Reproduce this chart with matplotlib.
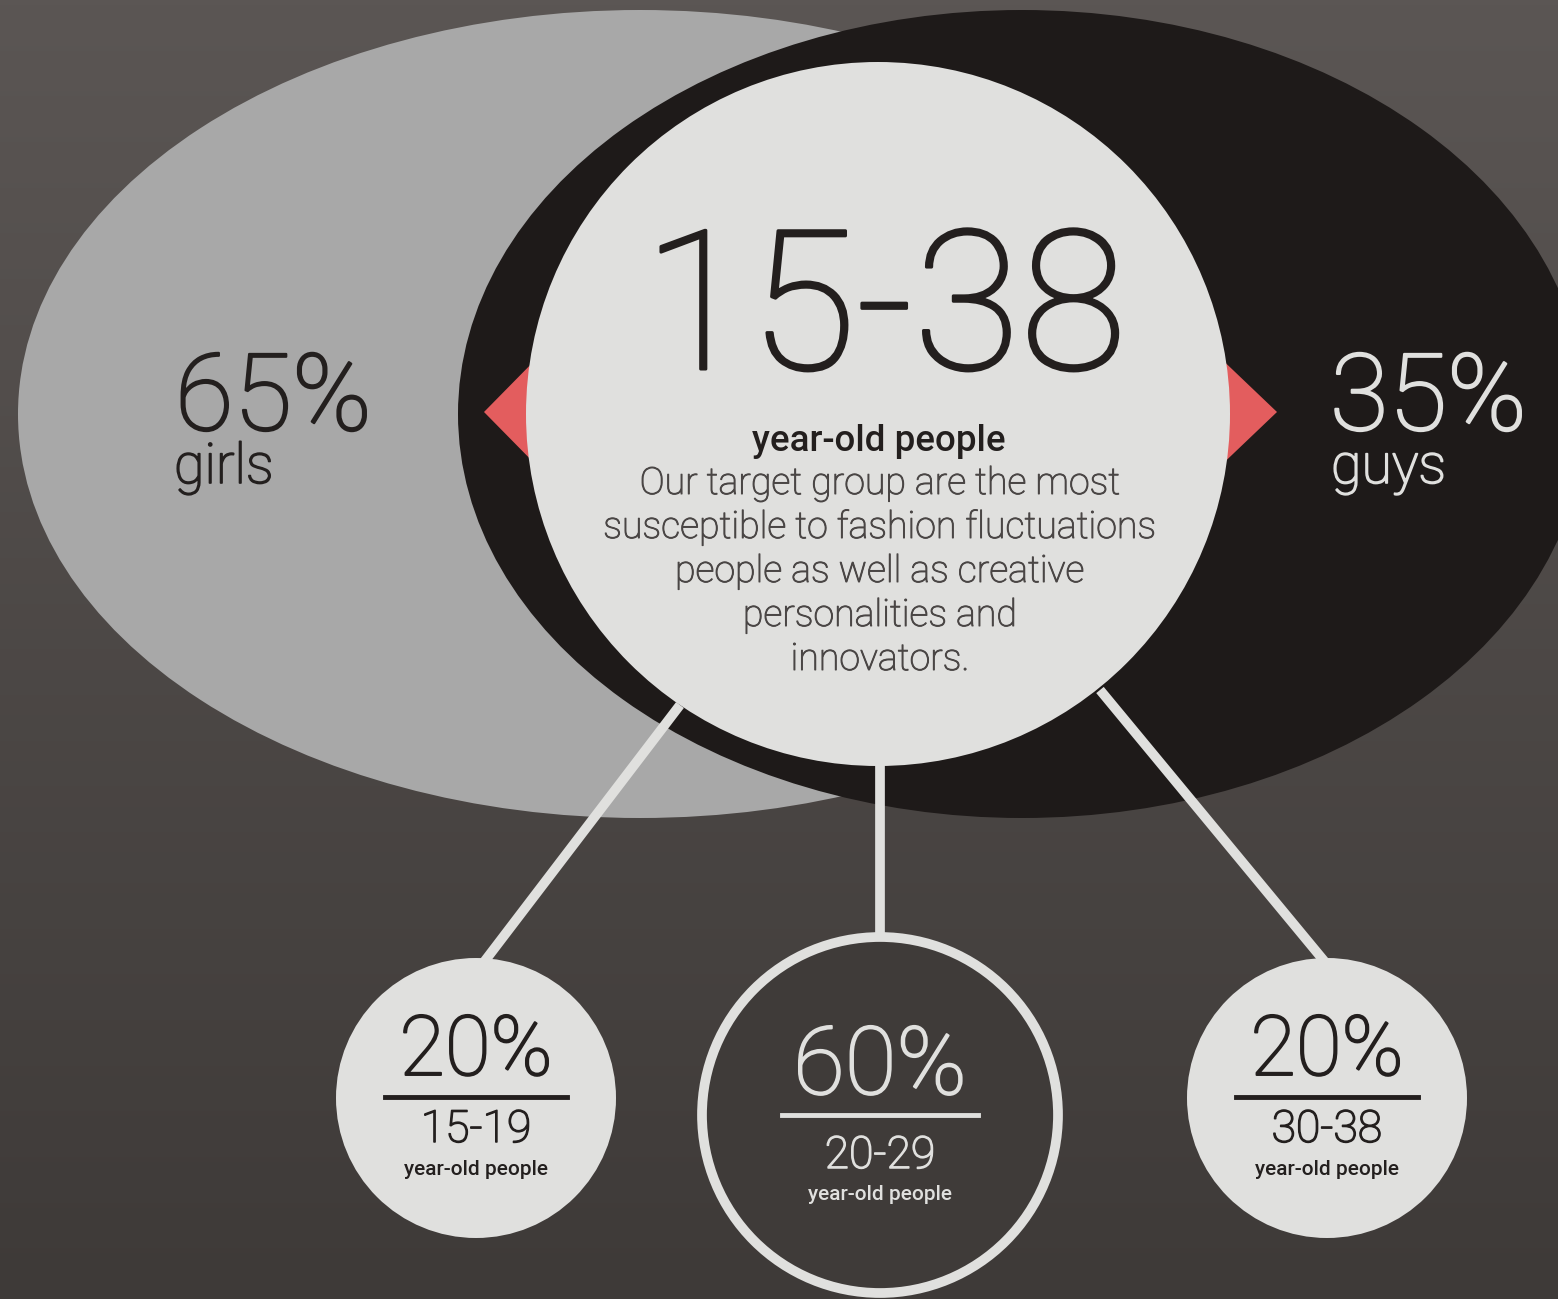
import numpy as np
import matplotlib
matplotlib.use("Agg")
import matplotlib.pyplot as plt
from matplotlib.patches import Ellipse, Circle, Polygon
from matplotlib.colors import LinearSegmentedColormap
import matplotlib.patheffects as pe

# ---- data ----
gender_labels = ["girls", "guys"]
gender_share = [65, 35]
age_range = "15-38"
age_groups = ["15-19", "20-29", "30-38"]
age_share = [20, 60, 20]
subtitle = "year-old people"
body_lines = ["Our target group are the most",
              "susceptible to fashion fluctuations",
              "people as well as creative",
              "personalities and",
              "innovators."]

W, H = 1558, 1299
fig = plt.figure(figsize=(W / 100, H / 100), dpi=100)
ax = fig.add_axes([0, 0, 1, 1])
ax.set_xlim(0, W)
ax.set_ylim(H, 0)
ax.set_aspect("equal")
ax.axis("off")

# background gradient
grad = np.linspace(0, 1, 256)[:, None]
bg = LinearSegmentedColormap.from_list("bg", ["#5b5654", "#3e3a38"])
ax.imshow(grad, cmap=bg, extent=[0, W, H, 0], aspect="auto", zorder=0)

FONT = "Roboto"
dark = "#231f1e"
light = "#e0e0de"


def thick(color, w=1.6):
    return [pe.withStroke(linewidth=w, foreground=color)]


# ellipses
ax.add_patch(Ellipse((640, 414), 1244, 808, facecolor="#a8a8a8", edgecolor="none", zorder=1))
ax.add_patch(Ellipse((1022, 414), 1128, 808, facecolor="#1e1a19", edgecolor="none", zorder=2))

# red triangles
ax.add_patch(Polygon([(484, 412), (545, 350), (545, 474)], closed=True, facecolor="#e35d5e", edgecolor="none", zorder=3))
ax.add_patch(Polygon([(1277, 412), (1212, 350), (1212, 474)], closed=True, facecolor="#e35d5e", edgecolor="none", zorder=3))

# connecting lines
lw = 7
ax.plot([680, 484], [705, 962], color=light, lw=lw, solid_capstyle="butt", zorder=3)
ax.plot([880, 880], [760, 937], color=light, lw=lw, solid_capstyle="butt", zorder=3)
ax.plot([1100, 1325], [690, 962], color=light, lw=lw, solid_capstyle="butt", zorder=3)

# central circle
ax.add_patch(Circle((878, 414), 352, facecolor=light, edgecolor="none", zorder=4))

# central text
ax.text(885, 369, age_range, ha="center", va="baseline", fontsize=140, family=FONT,
        fontweight="light", color=dark, zorder=5, path_effects=thick(dark, 2.2))
ax.text(879, 451, subtitle, ha="center", va="baseline", fontsize=26.5, family=FONT,
        fontweight="medium", color=dark, zorder=5)
for i, line in enumerate(body_lines):
    ax.text(880, 494 + i * 44, line, ha="center", va="baseline", fontsize=27, family=FONT,
            fontweight="light", color="#4a4645", zorder=5, path_effects=thick("#4a4645", 0.7))

# gender labels
ax.text(175, 430, f"{gender_share[0]}%", ha="left", va="baseline", fontsize=77, family=FONT,
        fontweight="light", color=dark, zorder=5, path_effects=thick(dark, 1.6))
ax.text(174, 483, gender_labels[0], ha="left", va="baseline", fontsize=40, family=FONT,
        fontweight="light", color=dark, zorder=5, path_effects=thick(dark, 1.2))
ax.text(1330, 430, f"{gender_share[1]}%", ha="left", va="baseline", fontsize=77, family=FONT,
        fontweight="light", color=light, zorder=5, path_effects=thick(light, 1.6))
ax.text(1331, 483, gender_labels[1], ha="left", va="baseline", fontsize=40, family=FONT,
        fontweight="light", color=light, zorder=5, path_effects=thick(light, 1.2))

# small circles
centers = [(476, 1098, 140), (880, 1115, 178), (1327, 1098, 140)]
for (cx, cy, r), grp, sh, k in zip(centers, age_groups, age_share, range(3)):
    if k == 1:
        ax.add_patch(Circle((cx, cy), r, facecolor="#3f3b39", edgecolor=light, lw=7, zorder=4))
        col = light
        fs_big = 68
        y_big, y_line, y_grp, y_sub = cy - 21, cy, cy + 53, cy + 85
        half = 98
    else:
        ax.add_patch(Circle((cx, cy), r, facecolor=light, edgecolor="none", zorder=4))
        col = dark
        fs_big = 60
        y_big, y_line, y_grp, y_sub = cy - 23, cy - 1, cy + 44, cy + 77
        half = 91
    ax.text(cx, y_big, f"{sh}%", ha="center", va="baseline", fontsize=fs_big, family=FONT,
            fontweight="light", color=col, zorder=5, path_effects=thick(col, 1.4))
    ax.plot([cx - half, cx + half], [y_line, y_line], color=col, lw=3.5, zorder=5)
    ax.text(cx, y_grp, grp, ha="center", va="baseline", fontsize=32, family=FONT,
            fontweight="light", color=col, zorder=5, path_effects=thick(col, 1.1))
    ax.text(cx, y_sub, subtitle, ha="center", va="baseline", fontsize=15, family=FONT,
            fontweight="medium", color=col, zorder=5)

fig.savefig("out.png", dpi=100)
